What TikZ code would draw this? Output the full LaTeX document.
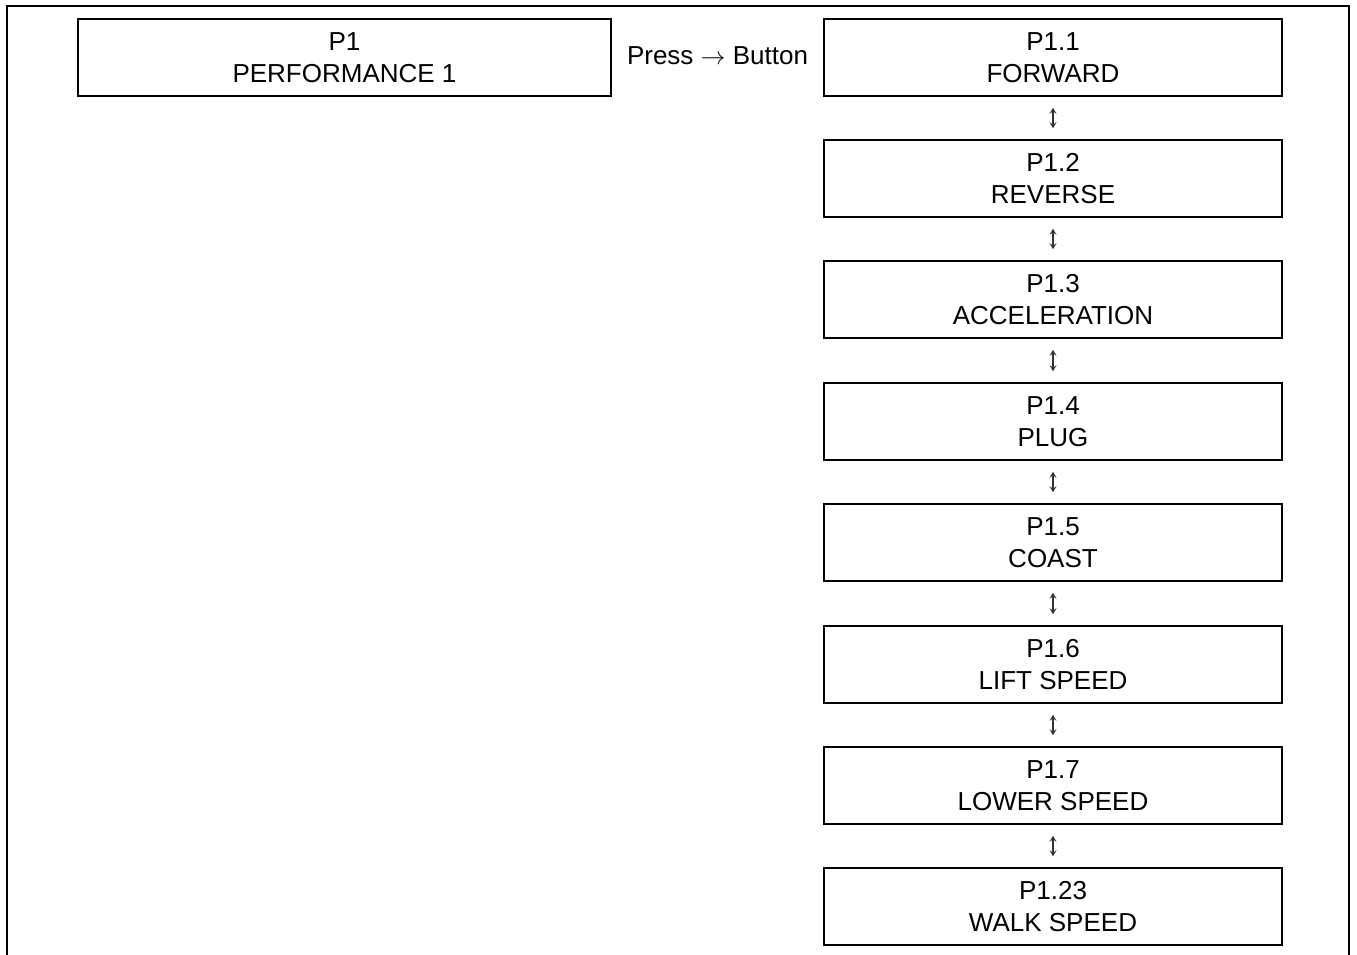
\documentclass[tikz,border=0pt]{standalone}
\usepackage{fontspec}
\setmainfont{Liberation Sans}
\usetikzlibrary{arrows.meta}
\begin{document}
\begin{tikzpicture}[x=1pt,y=1pt,
  menubox/.style={draw, line width=1.6pt, minimum height=77pt, inner sep=0pt, align=center,
    font=\fontsize{26}{32}\selectfont},
  subbox/.style={menubox, minimum width=458pt},
  updown/.style={{Stealth[length=6pt,width=7pt,inset=2.5pt]}-{Stealth[length=6pt,width=7pt,inset=2.5pt]}, line width=1.3pt, black!80, shorten >=11pt, shorten <=11pt},
  frame/.style={line width=2.4pt}
]
\useasboundingbox (0,0) rectangle (1357,-955);
\draw[frame] (7,-956) -- (7,-6) -- (1349,-6) -- (1349,-956);
\node[menubox, minimum width=533pt] (p1) at (344.5,-57.5) {P1\\PERFORMANCE 1};
\node[font=\fontsize{26}{32}\selectfont] (press) at (717.5,-56) {Press $\rightarrow$ Button};
\node[subbox] (s1) at (1053,-57.5) {P1.1\\FORWARD};
\node[subbox] (s2) at (1053,-178.5) {P1.2\\REVERSE};
\node[subbox] (s3) at (1053,-299.5) {P1.3\\ACCELERATION};
\node[subbox] (s4) at (1053,-421.5) {P1.4\\PLUG};
\node[subbox] (s5) at (1053,-542.5) {P1.5\\COAST};
\node[subbox] (s6) at (1053,-664.5) {P1.6\\LIFT SPEED};
\node[subbox] (s7) at (1053,-785.5) {P1.7\\LOWER SPEED};
\node[subbox] (s8) at (1053,-906.5) {P1.23\\WALK SPEED};
\foreach \a/\b in {s1/s2,s2/s3,s3/s4,s4/s5,s5/s6,s6/s7,s7/s8}
  \draw[updown] (\a.south) -- (\b.north);
\end{tikzpicture}
\end{document}
